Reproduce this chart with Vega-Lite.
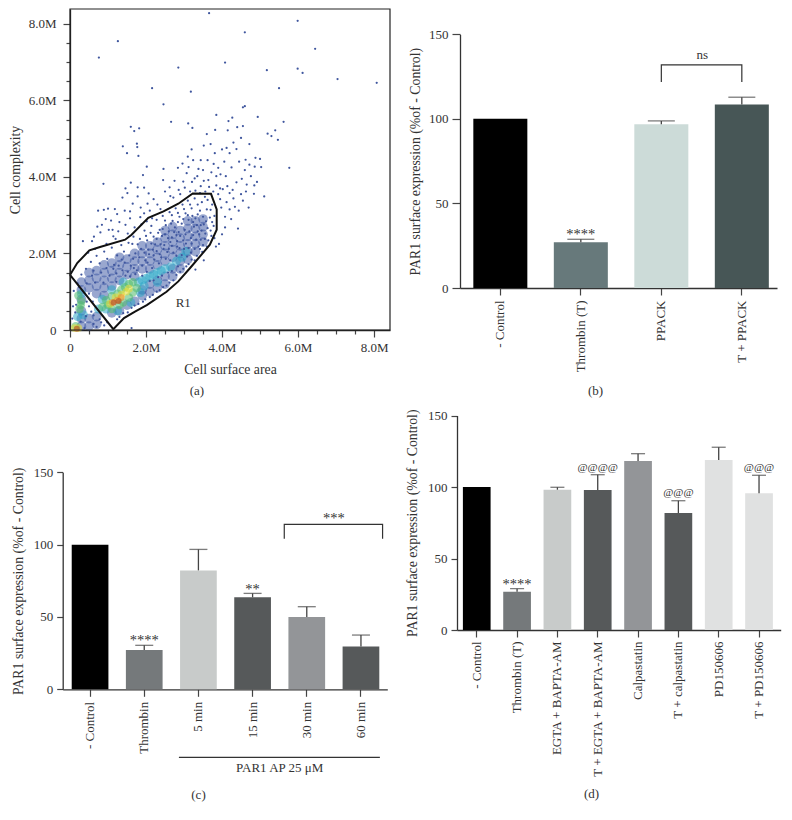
{"$schema":"https://vega.github.io/schema/vega-lite/v6.json","width":792,"height":820,"autosize":{"type":"none"},"padding":0,"background":"white",
"config":{"view":{"stroke":null},"font":"Liberation Serif","text":{"font":"Liberation Serif","color":"#333"},
"axis":{"grid":false,"labelFont":"Liberation Serif","titleFont":"Liberation Serif","labelFontSize":13,"titleFontSize":13.8,"titleFontWeight":"normal","labelColor":"#333","titleColor":"#333","domainColor":"#333","tickColor":"#444","domainWidth":1.3,"tickWidth":1.2,"labelOverlap":false,"labelFlush":false,"titleBaseline":"middle","zindex":1}},
"datasets":{
"sparse":[{"x":3.66,"y":8.28},{"x":5.99,"y":8.08},{"x":4.6,"y":7.78},{"x":1.26,"y":7.55},{"x":6.45,"y":7.35},{"x":0.76,"y":7.12},{"x":4.08,"y":6.99},{"x":2.85,"y":6.86},{"x":5.18,"y":6.79},{"x":5.99,"y":6.83},{"x":6.12,"y":6.72},{"x":7.04,"y":6.56},{"x":8.07,"y":6.46},{"x":2.16,"y":6.32},{"x":5.5,"y":6.32},{"x":3.18,"y":6.23},{"x":2.46,"y":5.9},{"x":4.6,"y":5.85},{"x":4.55,"y":5.82},{"x":3.85,"y":5.62},{"x":4.94,"y":5.57},{"x":4.27,"y":5.55},{"x":4.17,"y":5.46},{"x":5.62,"y":5.44},{"x":2.66,"y":5.44},{"x":3.11,"y":5.4},{"x":1.6,"y":5.31},{"x":3.22,"y":5.28},{"x":1.82,"y":5.27},{"x":1.69,"y":5.2},{"x":3.82,"y":5.23},{"x":4.15,"y":5.22},{"x":5.4,"y":5.22},{"x":5.2,"y":5.13},{"x":5.3,"y":5.07},{"x":5.47,"y":4.97},{"x":5.77,"y":4.24},{"x":5.11,"y":3.49},{"x":0.88,"y":3.82},
{"x":1.39,"y":4.8},{"x":1.76,"y":4.87},{"x":1.77,"y":4.78},{"x":1.5,"y":4.62},{"x":1.8,"y":4.55},{"x":2.02,"y":4.27},{"x":1.92,"y":4.05},{"x":2.46,"y":4.21},{"x":2.45,"y":3.92},{"x":1.6,"y":3.85},{"x":1.46,"y":3.7},{"x":1.51,"y":3.58},{"x":1.38,"y":3.46},{"x":1.78,"y":3.73},{"x":1.95,"y":3.72},{"x":2.07,"y":3.57},{"x":1.78,"y":3.49},{"x":1.65,"y":3.3},{"x":1.86,"y":3.2},{"x":2.1,"y":3.12},{"x":2.3,"y":3.28},{"x":2.62,"y":3.73},{"x":2.72,"y":3.46},{"x":2.84,"y":4.24},{"x":2.96,"y":4.35},{"x":3.1,"y":4.53},{"x":3.24,"y":4.44},{"x":3.07,"y":4.1},{"x":3.21,"y":3.87},{"x":3.35,"y":4.02},{"x":3.44,"y":3.76},{"x":3.38,"y":4.21},{"x":3.52,"y":4.82},{"x":3.62,"y":4.44},{"x":3.7,"y":4.86},{"x":3.81,"y":4.62},{"x":3.9,"y":4.24},{"x":3.96,"y":4.07},{"x":3.72,"y":4.12},{"x":3.64,"y":3.92},{"x":3.85,"y":3.78},{"x":4.02,"y":3.68},{"x":3.95,"y":3.42},{"x":4.12,"y":3.34},{"x":3.98,"y":3.2},{"x":4.2,"y":3.58},{"x":4.3,"y":3.44},{"x":4.1,"y":4.02},{"x":4.25,"y":4.25},{"x":4.38,"y":3.86},{"x":4.52,"y":3.95},{"x":4.63,"y":3.62},{"x":4.7,"y":3.2},{"x":4.55,"y":3.38},{"x":4.44,"y":3.12},{"x":4.65,"y":3.8},{"x":4.85,"y":3.78},{"x":4.92,"y":3.87},{"x":4.84,"y":3.56},{"x":4.2,"y":4.62},{"x":4.3,"y":4.9},{"x":4.38,"y":4.73},{"x":4.5,"y":5.02},{"x":4.62,"y":4.45},{"x":4.72,"y":4.86},{"x":4.88,"y":4.5},{"x":5.0,"y":4.47},{"x":5.03,"y":4.26},{"x":4.86,"y":4.27},{"x":4.45,"y":4.4},{"x":4.06,"y":4.4},{"x":3.6,"y":5.12},{"x":4.4,"y":5.3},{"x":4.55,"y":5.33},{"x":4.72,"y":4.32},{"x":3.3,"y":3.64},{"x":3.56,"y":3.62},{"x":3.77,"y":3.62},{"x":3.9,"y":3.55},{"x":4.08,"y":2.96},{"x":4.24,"y":2.9},{"x":4.42,"y":2.65},{"x":4.08,"y":2.68},{"x":4.0,"y":2.5},{"x":3.92,"y":2.25},{"x":3.84,"y":2.18},{"x":3.52,"y":1.82},{"x":3.3,"y":1.58},{"x":1.62,"y":0.05},{"x":0.74,"y":3.12},{"x":0.89,"y":3.14},{"x":1.0,"y":3.17},{"x":1.18,"y":3.16},{"x":1.24,"y":3.03},{"x":0.94,"y":2.9},{"x":0.84,"y":2.75},{"x":0.8,"y":2.55},{"x":1.08,"y":2.86},{"x":1.3,"y":2.82},{"x":0.34,"y":2.32},{"x":0.58,"y":2.32},{"x":1.14,"y":2.45},{"x":1.2,"y":2.38},{"x":1.58,"y":2.92},{"x":1.7,"y":2.68},{"x":1.52,"y":2.52},{"x":1.35,"y":2.22},{"x":1.1,"y":2.15},{"x":0.9,"y":2.05},{"x":0.7,"y":1.94},{"x":0.55,"y":1.78},{"x":0.42,"y":1.6},{"x":0.3,"y":1.45},{"x":0.62,"y":1.55},{"x":0.78,"y":1.74},{"x":0.98,"y":1.86},{"x":1.24,"y":1.95},{"x":1.42,"y":2.05},{"x":1.64,"y":2.25},{"x":1.84,"y":2.38},{"x":1.96,"y":2.6},{"x":2.14,"y":2.72},{"x":2.28,"y":2.88},{"x":2.44,"y":2.98},{"x":2.62,"y":3.08},{"x":2.78,"y":3.18},{"x":2.96,"y":3.28},{"x":3.1,"y":3.38},{"x":3.28,"y":3.44},{"x":3.47,"y":3.34},{"x":3.62,"y":3.4},{"x":3.74,"y":3.28},{"x":3.6,"y":3.15},{"x":3.42,"y":3.12},{"x":3.2,"y":3.18},{"x":3.04,"y":3.05},{"x":2.88,"y":2.96},{"x":2.7,"y":2.85},{"x":2.52,"y":2.74},{"x":2.36,"y":2.62},{"x":2.2,"y":2.44},{"x":2.03,"y":2.34},{"x":1.87,"y":2.12},{"x":1.72,"y":2.0},{"x":1.56,"y":1.95},{"x":1.36,"y":1.84},{"x":1.16,"y":1.7},{"x":2.06,"y":2.1},{"x":2.24,"y":2.24},{"x":2.42,"y":2.46},{"x":2.6,"y":2.58},{"x":2.76,"y":2.68},{"x":2.94,"y":2.78},{"x":3.12,"y":2.88},{"x":3.3,"y":2.92},{"x":3.5,"y":2.96},{"x":3.68,"y":2.94},{"x":3.78,"y":2.72},{"x":3.62,"y":2.66},{"x":3.44,"y":2.74},{"x":3.26,"y":2.7},{"x":3.72,"y":2.46},{"x":3.55,"y":2.38},{"x":3.4,"y":2.5},{"x":3.6,"y":2.18},{"x":3.42,"y":2.12},{"x":3.28,"y":1.82},{"x":3.12,"y":1.72},{"x":2.98,"y":1.6},{"x":2.8,"y":1.44},{"x":2.62,"y":1.24},{"x":2.45,"y":1.12},{"x":2.28,"y":1.0},{"x":2.1,"y":0.86},{"x":1.92,"y":0.74},{"x":1.7,"y":0.64},{"x":1.52,"y":0.46},{"x":1.3,"y":0.34},{"x":2.2,"y":1.95},{"x":2.48,"y":2.22},{"x":2.68,"y":2.42},{"x":2.86,"y":2.56},{"x":3.02,"y":2.62},{"x":3.18,"y":2.4},{"x":3.05,"y":2.26},{"x":2.82,"y":2.18},{"x":2.6,"y":2.12},{"x":2.36,"y":1.98},{"x":1.98,"y":1.82},{"x":1.68,"y":1.62},{"x":1.46,"y":1.42},{"x":1.22,"y":1.26},{"x":0.5,"y":0.62},{"x":0.62,"y":0.38},{"x":0.78,"y":0.28},{"x":0.9,"y":0.12},{"x":0.6,"y":0.74},{"x":0.08,"y":0.62},{"x":0.06,"y":0.3},{"x":0.1,"y":1.02},{"x":0.24,"y":1.12},{"x":0.5,"y":0.95},{"x":0.7,"y":0.08},{"x":0.98,"y":0.2},{"x":0.38,"y":0.05},{"x":1.85,"y":2.95},{"x":1.95,"y":3.05},{"x":2.58,"y":3.35},{"x":2.9,"y":3.55},{"x":3.02,"y":3.72},{"x":3.16,"y":3.62},{"x":2.75,"y":3.9},{"x":4.2,"y":3.15},{"x":3.95,"y":3.7},{"x":3.78,"y":4.34},{"x":3.2,"y":4.72},{"x":3.5,"y":4.18},{"x":3.28,"y":3.96},
{"x":0.48,"y":2.02},{"x":0.66,"y":2.12},{"x":0.96,"y":2.25},{"x":0.63,"y":2.44},{"x":1.02,"y":2.62},{"x":1.46,"y":2.75},{"x":1.27,"y":2.58},{"x":1.88,"y":2.76},{"x":1.67,"y":2.44},{"x":1.54,"y":2.28},{"x":2.16,"y":2.92},{"x":2.38,"y":3.16},{"x":2.02,"y":2.84},{"x":2.5,"y":2.86},{"x":2.68,"y":3.0},{"x":2.84,"y":3.06},{"x":3.0,"y":3.16},{"x":3.16,"y":3.28},{"x":3.36,"y":3.28},{"x":3.55,"y":3.48},{"x":3.7,"y":3.14},{"x":3.8,"y":2.98},{"x":3.74,"y":2.82},{"x":3.58,"y":2.84},{"x":3.36,"y":3.02},{"x":3.22,"y":2.98},{"x":3.1,"y":3.0},{"x":2.98,"y":2.9},{"x":2.84,"y":2.82},{"x":2.66,"y":2.78},{"x":2.44,"y":2.64},{"x":2.32,"y":2.54},{"x":2.12,"y":2.54},{"x":2.0,"y":2.46},{"x":1.78,"y":2.24},{"x":3.7,"y":2.6},{"x":3.8,"y":2.4},{"x":3.64,"y":2.34},{"x":3.5,"y":2.22},{"x":3.48,"y":2.04},{"x":3.34,"y":1.94},{"x":3.2,"y":1.84},{"x":3.06,"y":1.66},{"x":2.9,"y":1.52},{"x":2.72,"y":1.3},{"x":2.54,"y":1.16},{"x":2.36,"y":1.04},{"x":2.18,"y":0.92},{"x":1.98,"y":0.8},{"x":1.8,"y":0.68},{"x":1.62,"y":0.58},{"x":1.4,"y":0.44},{"x":1.24,"y":0.28},{"x":4.14,"y":3.76},{"x":4.34,"y":3.22},{"x":4.5,"y":3.55},{"x":4.28,"y":3.66},{"x":4.6,"y":4.18},{"x":4.76,"y":4.02},{"x":3.85,"y":4.02},{"x":3.52,"y":3.9},{"x":3.12,"y":4.26},{"x":3.44,"y":4.44},{"x":4.0,"y":4.72},{"x":4.12,"y":4.76},{"x":2.98,"y":3.88},{"x":2.86,"y":3.66},{"x":3.66,"y":3.74},{"x":3.42,"y":3.58},{"x":2.64,"y":3.5},{"x":2.5,"y":3.62},{"x":2.2,"y":3.42},{"x":2.04,"y":3.3},{"x":1.44,"y":3.12},{"x":1.58,"y":3.1},{"x":1.12,"y":2.62},{"x":0.72,"y":2.7},
{"x":0.44,"y":1.22},{"x":0.58,"y":1.42},{"x":0.66,"y":1.24},{"x":0.82,"y":1.5},{"x":0.88,"y":1.24},{"x":0.96,"y":1.62},{"x":1.04,"y":1.42},{"x":1.14,"y":1.6},{"x":1.22,"y":1.48},{"x":1.28,"y":1.68},{"x":1.38,"y":1.56},{"x":1.44,"y":1.76},{"x":1.52,"y":1.52},{"x":1.6,"y":1.68},{"x":1.66,"y":1.86},{"x":1.76,"y":1.56},{"x":1.82,"y":1.9},{"x":1.9,"y":1.68},{"x":1.96,"y":2.02},{"x":2.04,"y":1.76},{"x":2.08,"y":1.98},{"x":2.16,"y":1.62},{"x":2.22,"y":1.84},{"x":2.28,"y":2.06},{"x":2.34,"y":1.74},{"x":2.4,"y":1.9},{"x":2.46,"y":2.12},{"x":2.52,"y":1.86},{"x":2.56,"y":2.04},{"x":2.58,"y":2.4},{"x":2.64,"y":1.82},{"x":2.68,"y":2.2},{"x":2.72,"y":2.02},{"x":2.74,"y":2.56},{"x":2.8,"y":1.94},{"x":2.82,"y":2.32},{"x":2.88,"y":2.14},{"x":2.9,"y":2.46},{"x":2.94,"y":1.96},{"x":2.98,"y":2.34},{"x":3.0,"y":2.12},{"x":3.04,"y":2.5},{"x":3.08,"y":1.92},{"x":3.12,"y":2.14},{"x":3.14,"y":2.58},{"x":3.18,"y":2.02},{"x":3.2,"y":2.26},{"x":3.24,"y":2.48},{"x":3.28,"y":2.12},{"x":3.32,"y":2.36},{"x":3.36,"y":2.58},{"x":3.38,"y":2.18},{"x":3.44,"y":2.36},{"x":3.46,"y":2.6},{"x":3.52,"y":2.76},{"x":3.56,"y":2.52},{"x":3.24,"y":2.82},{"x":3.34,"y":2.74},{"x":2.1,"y":1.28},{"x":2.2,"y":1.3},{"x":2.32,"y":1.38},{"x":2.42,"y":1.42},{"x":2.58,"y":1.5},{"x":2.68,"y":1.54},{"x":2.84,"y":1.66},{"x":1.9,"y":1.42},{"x":2.02,"y":1.52},{"x":1.58,"y":1.4},{"x":1.72,"y":1.46},{"x":2.18,"y":2.1},{"x":2.28,"y":2.38},{"x":2.14,"y":2.26},{"x":2.38,"y":2.24},{"x":2.5,"y":2.5},{"x":2.64,"y":2.3},{"x":2.8,"y":2.48},{"x":0.62,"y":0.16},{"x":0.42,"y":0.36},{"x":0.56,"y":0.48},{"x":0.28,"y":0.22},{"x":0.82,"y":0.2},{"x":0.16,"y":0.66},{"x":0.44,"y":0.74},{"x":0.2,"y":1.22},{"x":0.14,"y":0.46}],
"dense":[{"x":0.3,"y":0.1,"k":1},{"x":0.3,"y":0.3,"k":1},{"x":0.3,"y":0.5,"k":1},{"x":0.3,"y":0.8,"k":1},{"x":0.3,"y":1.05,"k":1},{"x":0.3,"y":1.25,"k":1},{"x":0.5,"y":0.1,"k":1},{"x":0.5,"y":0.3,"k":1},{"x":0.5,"y":1.1,"k":1},{"x":0.5,"y":1.3,"k":1},{"x":0.5,"y":1.5,"k":1},{"x":0.7,"y":0.15,"k":1},{"x":0.7,"y":0.35,"k":1},{"x":0.7,"y":0.95,"k":1},{"x":0.7,"y":1.15,"k":1},{"x":0.7,"y":1.35,"k":1},{"x":0.7,"y":1.55,"k":1},{"x":0.9,"y":0.9,"k":1},{"x":0.9,"y":1.1,"k":1},{"x":0.9,"y":1.3,"k":1},{"x":0.9,"y":1.5,"k":1},{"x":0.9,"y":1.7,"k":1},{"x":1.1,"y":0.45,"k":1},{"x":1.1,"y":1.15,"k":1},{"x":1.1,"y":1.35,"k":1},{"x":1.1,"y":1.55,"k":1},{"x":1.1,"y":1.75,"k":1},{"x":1.3,"y":0.5,"k":1},{"x":1.3,"y":1.3,"k":1},{"x":1.3,"y":1.5,"k":1},{"x":1.3,"y":1.7,"k":1},{"x":1.3,"y":1.9,"k":1},{"x":1.5,"y":0.65,"k":1},{"x":1.5,"y":1.45,"k":1},{"x":1.5,"y":1.65,"k":1},{"x":1.5,"y":1.85,"k":1},{"x":1.7,"y":0.75,"k":1},{"x":1.7,"y":1.4,"k":1},{"x":1.7,"y":1.6,"k":1},{"x":1.7,"y":1.8,"k":1},{"x":1.7,"y":2.0,"k":1},{"x":1.9,"y":0.9,"k":1},{"x":1.9,"y":1.05,"k":1},{"x":1.9,"y":1.6,"k":1},{"x":1.9,"y":1.8,"k":1},{"x":1.9,"y":2.0,"k":1},{"x":1.9,"y":2.2,"k":1},{"x":2.1,"y":1.0,"k":1},{"x":2.1,"y":1.2,"k":1},{"x":2.1,"y":1.6,"k":1},{"x":2.1,"y":1.8,"k":1},{"x":2.1,"y":2.0,"k":1},{"x":2.1,"y":2.2,"k":1},{"x":2.3,"y":1.1,"k":1},{"x":2.3,"y":1.3,"k":1},{"x":2.3,"y":1.7,"k":1},{"x":2.3,"y":1.9,"k":1},{"x":2.3,"y":2.1,"k":1},{"x":2.3,"y":2.3,"k":1},{"x":2.5,"y":1.2,"k":1},{"x":2.5,"y":1.4,"k":1},{"x":2.5,"y":1.8,"k":1},{"x":2.5,"y":2.0,"k":1},{"x":2.5,"y":2.2,"k":1},{"x":2.5,"y":2.4,"k":1},{"x":2.5,"y":2.6,"k":1},{"x":2.7,"y":1.4,"k":1},{"x":2.7,"y":1.6,"k":1},{"x":2.7,"y":1.9,"k":1},{"x":2.7,"y":2.1,"k":1},{"x":2.7,"y":2.3,"k":1},{"x":2.7,"y":2.5,"k":1},{"x":2.7,"y":2.7,"k":1},{"x":2.9,"y":1.6,"k":1},{"x":2.9,"y":1.8,"k":1},{"x":2.9,"y":2.0,"k":1},{"x":2.9,"y":2.2,"k":1},{"x":2.9,"y":2.4,"k":1},{"x":2.9,"y":2.6,"k":1},{"x":3.1,"y":1.85,"k":1},{"x":3.1,"y":2.05,"k":1},{"x":3.1,"y":2.25,"k":1},{"x":3.1,"y":2.45,"k":1},{"x":3.1,"y":2.65,"k":1},{"x":3.1,"y":2.85,"k":1},{"x":3.3,"y":2.05,"k":1},{"x":3.3,"y":2.25,"k":1},{"x":3.3,"y":2.45,"k":1},{"x":3.3,"y":2.65,"k":1},{"x":3.3,"y":2.85,"k":1},{"x":3.5,"y":2.3,"k":1},{"x":3.5,"y":2.5,"k":1},{"x":3.5,"y":2.7,"k":1},{"x":3.5,"y":2.9,"k":1},
{"x":0.2,"y":0.35,"k":2},{"x":0.3,"y":0.95,"k":2},{"x":0.35,"y":0.4,"k":2},{"x":0.75,"y":0.55,"k":2},{"x":1.8,"y":1.25,"k":2},{"x":1.9,"y":1.3,"k":2},{"x":2.0,"y":1.35,"k":2},{"x":2.1,"y":1.4,"k":2},{"x":2.2,"y":1.45,"k":2},{"x":2.3,"y":1.5,"k":2},{"x":2.4,"y":1.55,"k":2},{"x":2.5,"y":1.6,"k":2},{"x":2.65,"y":1.65,"k":2},{"x":2.8,"y":1.8,"k":2},{"x":2.95,"y":1.9,"k":2},{"x":3.05,"y":2.05,"k":2},{"x":2.3,"y":1.25,"k":2},{"x":1.95,"y":1.15,"k":2},{"x":1.1,"y":1.05,"k":2},{"x":1.4,"y":1.25,"k":2},{"x":0.85,"y":0.8,"k":2},{"x":0.95,"y":0.55,"k":2},{"x":1.25,"y":0.5,"k":2},{"x":1.6,"y":0.72,"k":2},{"x":1.85,"y":0.98,"k":2},
{"x":0.25,"y":0.55,"k":3},{"x":0.28,"y":0.65,"k":3},{"x":0.3,"y":0.75,"k":3},{"x":0.22,"y":0.9,"k":3},{"x":0.85,"y":0.6,"k":3},{"x":0.95,"y":0.78,"k":3},{"x":1.1,"y":0.55,"k":3},{"x":1.1,"y":0.88,"k":3},{"x":1.25,"y":0.95,"k":3},{"x":1.35,"y":1.05,"k":3},{"x":1.45,"y":1.12,"k":3},{"x":1.55,"y":1.2,"k":3},{"x":1.65,"y":1.25,"k":3},{"x":1.75,"y":1.1,"k":3},{"x":1.65,"y":0.98,"k":3},{"x":1.55,"y":0.85,"k":3},{"x":1.4,"y":0.72,"k":3},{"x":1.3,"y":0.65,"k":3},{"x":1.0,"y":0.65,"k":3},{"x":0.15,"y":0.1,"k":3},
{"x":1.05,"y":0.68,"k":4},{"x":1.2,"y":0.85,"k":4},{"x":1.35,"y":0.92,"k":4},{"x":1.48,"y":1.0,"k":4},{"x":1.55,"y":1.08,"k":4},{"x":0.12,"y":0.05,"k":4},{"x":0.22,"y":0.05,"k":4},
{"x":1.12,"y":0.72,"k":5},{"x":1.25,"y":0.78,"k":5},{"x":1.35,"y":0.85,"k":5},{"x":1.15,"y":0.72,"k":6},{"x":1.28,"y":0.76,"k":6},{"x":0.18,"y":0.03,"k":6}]},
"layer":[
{"layer":[
{"data":{"name":"dense"},"mark":{"type":"circle"},"encoding":{
"x":{"field":"x","type":"quantitative","scale":{"domain":[0,8.42],"range":[70,390],"nice":false,"zero":false},"axis":{"orient":"bottom","offset":-490,"values":[0,0.5,1,1.5,2,2.5,3,3.5,4,4.5,5,5.5,6,6.5,7,7.5,8],"labelExpr":"datum.value==0?'0':(datum.value%2==0?format(datum.value,'.1f')+'M':'')","tickSize":{"condition":{"test":"datum.value%2==0","value":7},"value":4},"labelPadding":4,"title":"Cell surface area","titleX":230,"titleY":39,"domainColor":"#222"}},
"y":{"field":"y","type":"quantitative","scale":{"domain":[0,8.39],"range":[330,9],"nice":false,"zero":false},"axis":{"orient":"left","offset":-70,"values":[0,0.5,1,1.5,2,2.5,3,3.5,4,4.5,5,5.5,6,6.5,7,7.5,8],"labelExpr":"datum.value==0?'0':(datum.value%2==0?format(datum.value,'.1f')+'M':'')","tickSize":{"condition":{"test":"datum.value%2==0","value":7},"value":4},"labelPadding":7,"title":"Cell complexity","titleX":-55,"domainColor":"#222"}},
"color":{"field":"k","type":"ordinal","scale":{"domain":[1,2,3,4,5,6],"range":["#34509f","#2ba6c6","#52bb6e","#e2dc3c","#e8912c","#b0512a"]},"legend":null},
"opacity":{"field":"k","type":"ordinal","scale":{"domain":[1,2,3,4,5,6],"range":[0.5,0.65,0.7,0.8,0.9,1]},"legend":null},
"size":{"field":"k","type":"ordinal","scale":{"domain":[1,2,3,4,5,6],"range":[95,36,60,30,20,12]},"legend":null}}},
{"data":{"name":"sparse"},"mark":{"type":"circle","size":5,"color":"#3f569e","opacity":1},"encoding":{"x":{"field":"x","type":"quantitative"},"y":{"field":"y","type":"quantitative"}}},
{"data":{"values":[{"x":0,"y":1.44,"i":1},{"x":0.19,"y":1.75,"i":2},{"x":0.51,"y":2.08,"i":3},{"x":0.79,"y":2.17,"i":4},{"x":1.45,"y":2.36,"i":5},{"x":1.62,"y":2.49,"i":6},{"x":2.06,"y":2.93,"i":7},{"x":2.46,"y":3.1,"i":8},{"x":2.85,"y":3.3,"i":9},{"x":3.23,"y":3.57,"i":10},{"x":3.71,"y":3.56,"i":11},{"x":3.86,"y":3.15,"i":12},{"x":3.86,"y":2.62,"i":13},{"x":3.68,"y":2.23,"i":14},{"x":3.46,"y":1.97,"i":15},{"x":3.16,"y":1.62,"i":16},{"x":2.85,"y":1.27,"i":17},{"x":2.54,"y":1.0,"i":18},{"x":2.02,"y":0.65,"i":19},{"x":1.71,"y":0.48,"i":20},{"x":1.42,"y":0.31,"i":21},{"x":1.14,"y":0.02,"i":22},{"x":0,"y":1.44,"i":23}]},"mark":{"type":"line","color":"#111","strokeWidth":2},"encoding":{"x":{"field":"x","type":"quantitative"},"y":{"field":"y","type":"quantitative"},"order":{"field":"i","type":"quantitative"}}},
{"data":{"values":[{"x":0,"x2":8.42,"y":0,"y2":8.39}]},"mark":{"type":"rect","fill":null,"stroke":"#222","strokeWidth":1.2},"encoding":{"x":{"field":"x","type":"quantitative"},"x2":{"field":"x2"},"y":{"field":"y","type":"quantitative"},"y2":{"field":"y2"}}},
{"data":{"values":[{"x":2.98,"y":0.7,"label":"R1"},{"x":3.34,"y":-1.6,"label":"(a)"}]},"mark":{"type":"text","fontSize":13,"baseline":"middle"},"encoding":{"x":{"field":"x","type":"quantitative"},"y":{"field":"y","type":"quantitative"},"text":{"field":"label"}}}
]},
{"data":{"values":[{"name":"- Control","value":100},{"name":"Thrombin (T)","value":27,"upper":28.8,"sig":"****","sigy":33},{"name":"PPACK","value":96.8,"upper":98.8},{"name":"T + PPACK","value":108.5,"upper":112.8}]},
"encoding":{"x":{"field":"name","type":"nominal","sort":null,"scale":{"domain":["- Control","Thrombin (T)","PPACK","T + PPACK"],"range":[460,777],"paddingInner":0.329,"paddingOuter":0.1335,"align":0.62},"axis":{"orient":"bottom","offset":-532,"labelAngle":-90,"tickSize":7,"labelPadding":5,"title":"(b)","titleX":595,"titleY":102,"titleFontSize":13}}},
"layer":[
{"mark":{"type":"bar"},"encoding":{"y":{"field":"value","type":"quantitative","scale":{"domain":[0,150],"range":[288,34.3],"nice":false,"zero":false},"axis":{"orient":"left","offset":-460,"values":[0,50,100,150],"tickSize":8,"labelPadding":4,"title":"PAR1  surface expression (%of - Control)","titleX":-45}},"color":{"field":"name","type":"nominal","scale":{"domain":["- Control","Thrombin (T)","PPACK","T + PPACK"],"range":["#000000","#67797b","#ccdbd8","#475656"]},"legend":null}}},
{"transform":[{"filter":"datum.upper!=null"}],"mark":{"type":"rule","color":"#444","strokeWidth":1.3},"encoding":{"y":{"field":"value","type":"quantitative"},"y2":{"field":"upper"}}},
{"transform":[{"filter":"datum.upper!=null"}],"mark":{"type":"tick","color":"#444","size":27,"thickness":1.3},"encoding":{"y":{"field":"upper","type":"quantitative"}}},
{"transform":[{"filter":"datum.sig!=null"}],"mark":{"type":"text","fontSize":14.5,"baseline":"middle","dy":3},"encoding":{"y":{"field":"sigy","type":"quantitative"},"text":{"field":"sig"}}},
{"data":{"values":[{"name":"PPACK","y":121.8,"i":1},{"name":"PPACK","y":131.9,"i":2},{"name":"T + PPACK","y":131.9,"i":3},{"name":"T + PPACK","y":121.8,"i":4}]},"mark":{"type":"line","color":"#333","strokeWidth":1.2},"encoding":{"y":{"field":"y","type":"quantitative"},"order":{"field":"i","type":"quantitative"}}},
{"data":{"values":[{"name":"PPACK","y":137.5,"label":"ns"}]},"mark":{"type":"text","fontSize":13,"baseline":"middle","dx":41},"encoding":{"y":{"field":"y","type":"quantitative"},"text":{"field":"label"}}}
]},
{"data":{"values":[{"name":"- Control","value":100},{"name":"Thrombin","value":27.2,"upper":30.4,"sig":"****","sigy":35.5},{"name":"5 min","value":82.2,"upper":96.7},{"name":"15 min","value":63.6,"upper":66.3,"sig":"**","sigy":71},{"name":"30 min","value":50,"upper":57.1},{"name":"60 min","value":29.5,"upper":37.5}]},
"encoding":{"x":{"field":"name","type":"nominal","sort":null,"scale":{"domain":["- Control","Thrombin","5 min","15 min","30 min","60 min"],"range":[62.7,387.3],"paddingInner":0.3225,"paddingOuter":0.157,"align":0.53},"axis":{"orient":"bottom","offset":-130.7,"labelAngle":-90,"tickSize":7,"labelPadding":5,"title":"(c)","titleX":198,"titleY":105,"titleFontSize":13}}},
"layer":[
{"mark":{"type":"bar"},"encoding":{"y":{"field":"value","type":"quantitative","scale":{"domain":[0,150],"range":[689.3,472.3],"nice":false,"zero":false},"axis":{"orient":"left","offset":-62.7,"values":[0,50,100,150],"tickSize":6,"labelPadding":4,"title":"PAR1  surface expression (%of - Control)","titleX":-44.7}},"color":{"field":"name","type":"nominal","scale":{"domain":["- Control","Thrombin","5 min","15 min","30 min","60 min"],"range":["#000000","#75797b","#c8cbca","#56595a","#939598","#56595a"]},"legend":null}}},
{"transform":[{"filter":"datum.upper!=null"}],"mark":{"type":"rule","color":"#444","strokeWidth":1.3},"encoding":{"y":{"field":"value","type":"quantitative"},"y2":{"field":"upper"}}},
{"transform":[{"filter":"datum.upper!=null"}],"mark":{"type":"tick","color":"#444","size":18,"thickness":1.3},"encoding":{"y":{"field":"upper","type":"quantitative"}}},
{"transform":[{"filter":"datum.sig!=null"}],"mark":{"type":"text","fontSize":14.5,"baseline":"middle","dy":3},"encoding":{"y":{"field":"sigy","type":"quantitative"},"text":{"field":"sig"}}}
]},
{"layer":[
{"data":{"values":[{"g":"a","x":4.085,"y":104,"i":1},{"g":"a","x":4.085,"y":114,"i":2},{"g":"a","x":5.9,"y":114,"i":3},{"g":"a","x":5.9,"y":104,"i":4},{"g":"b","x":2.14,"y":-47,"i":1},{"g":"b","x":5.85,"y":-47,"i":2}]},"mark":{"type":"line","color":"#333","strokeWidth":1.2},"encoding":{"x":{"field":"x","type":"quantitative","scale":{"domain":[0,6],"range":[63,388],"nice":false,"zero":false},"axis":null},"y":{"field":"y","type":"quantitative","scale":{"domain":[0,150],"range":[689.3,472.3],"nice":false,"zero":false},"axis":null},"detail":{"field":"g"},"order":{"field":"i","type":"quantitative"}}},
{"data":{"values":[{"x":4.0,"y":-54.4,"label":"PAR1 AP 25 μM"}]},"mark":{"type":"text","fontSize":13,"baseline":"middle"},"encoding":{"x":{"field":"x","type":"quantitative","axis":null},"y":{"field":"y","type":"quantitative","axis":null},"text":{"field":"label"}}},
{"data":{"values":[{"x":5.0,"y":117.5,"label":"***"}]},"mark":{"type":"text","fontSize":14.5,"baseline":"middle"},"encoding":{"x":{"field":"x","type":"quantitative","axis":null},"y":{"field":"y","type":"quantitative","axis":null},"text":{"field":"label"}}}
]},
{"data":{"values":[{"name":"- Control","value":100},{"name":"Thrombin (T)","value":26.8,"upper":28.9,"sig":"****","sigy":33.8},{"name":"EGTA + BAPTA-AM","value":98.1,"upper":99.8},{"name":"T + EGTA + BAPTA-AM","value":97.9,"upper":108.6,"sig":"@@@@","sigy":114.2},{"name":"Calpastatin","value":118.2,"upper":123.3},{"name":"T + calpastatin","value":81.8,"upper":90.4,"sig":"@@@","sigy":96.3},{"name":"PD150606","value":118.9,"upper":127.8},{"name":"T + PD150606","value":95.6,"upper":108.2,"sig":"@@@","sigy":114.2}]},
"encoding":{"x":{"field":"name","type":"nominal","sort":null,"scale":{"domain":["- Control","Thrombin (T)","EGTA + BAPTA-AM","T + EGTA + BAPTA-AM","Calpastatin","T + calpastatin","PD150606","T + PD150606"],"range":[457,780.7],"paddingInner":0.313,"paddingOuter":0.17,"align":0.43},"axis":{"orient":"bottom","offset":-190,"labelAngle":-90,"tickSize":7,"labelPadding":4,"title":"(d)","titleX":591,"titleY":163,"titleFontSize":13}}},
"layer":[
{"mark":{"type":"bar"},"encoding":{"y":{"field":"value","type":"quantitative","scale":{"domain":[0,150],"range":[630,415.5],"nice":false,"zero":false},"axis":{"orient":"left","offset":-457,"values":[0,50,100,150],"tickSize":6,"labelPadding":4,"title":"PAR1  surface expression (%of - Control)","titleX":-45}},"color":{"field":"name","type":"nominal","scale":{"domain":["- Control","Thrombin (T)","EGTA + BAPTA-AM","T + EGTA + BAPTA-AM","Calpastatin","T + calpastatin","PD150606","T + PD150606"],"range":["#000000","#75797b","#c8cbca","#56595a","#939598","#56595a","#e0e1e1","#e0e1e1"]},"legend":null}}},
{"transform":[{"filter":"datum.upper!=null"}],"mark":{"type":"rule","color":"#444","strokeWidth":1.3},"encoding":{"y":{"field":"value","type":"quantitative"},"y2":{"field":"upper"}}},
{"transform":[{"filter":"datum.upper!=null"}],"mark":{"type":"tick","color":"#444","size":14,"thickness":1.3},"encoding":{"y":{"field":"upper","type":"quantitative"}}},
{"transform":[{"filter":"datum.sig=='****'"}],"mark":{"type":"text","fontSize":14.5,"baseline":"middle","dy":3},"encoding":{"y":{"field":"sigy","type":"quantitative"},"text":{"field":"sig"}}},
{"transform":[{"filter":"datum.sig!=null&&datum.sig!='****'"}],"mark":{"type":"text","fontSize":11,"baseline":"middle","dy":1},"encoding":{"y":{"field":"sigy","type":"quantitative"},"text":{"field":"sig"}}}
]}
],
"resolve":{"scale":{"x":"independent","y":"independent","color":"independent","size":"independent","opacity":"independent"},"axis":{"x":"independent","y":"independent"}}}
